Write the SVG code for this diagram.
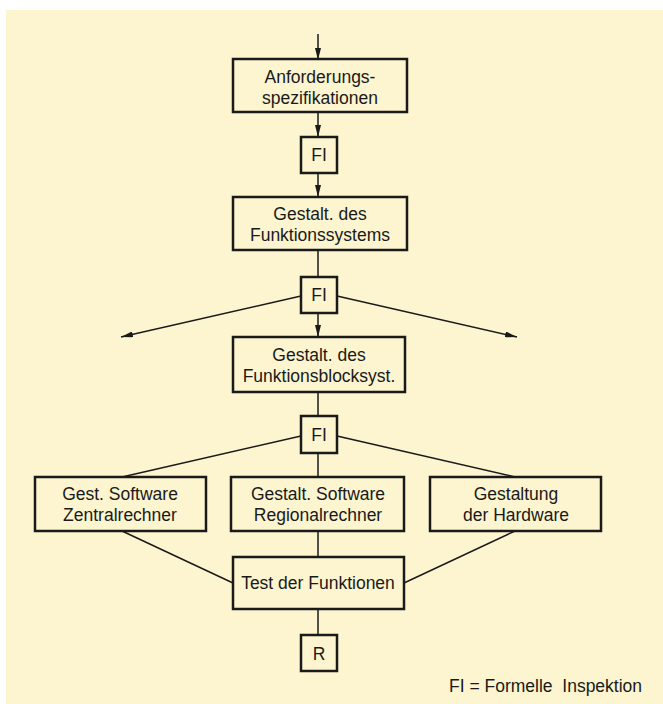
<svg xmlns="http://www.w3.org/2000/svg" width="663" height="704" viewBox="0 0 663 704">
<style>
.bx{fill:none;stroke:#1a1a1a;stroke-width:2.5}
.ln{fill:none;stroke:#1a1a1a;stroke-width:1.5}
.t{font-family:"Liberation Sans",Arial,sans-serif;font-size:17.5px;fill:#1a1a1a;text-anchor:middle}
.lg{font-family:"Liberation Sans",Arial,sans-serif;font-size:17.5px;fill:#1a1a1a;white-space:pre}
</style>
<defs>
<marker id="ah" viewBox="0 0 12 6" refX="12" refY="3" markerWidth="12" markerHeight="6" markerUnits="userSpaceOnUse" orient="auto">
<path d="M0,0 L12,3 L0,6 Z" fill="#1a1a1a"/>
</marker>
</defs>
<rect x="0" y="0" width="663" height="704" fill="#ffffff"/>
<rect x="6" y="10" width="657" height="694" fill="#fcf5cf"/>
<g id="connectors">
<line class="ln" x1="318" y1="34" x2="318" y2="60" marker-end="url(#ah)"/>
<line class="ln" x1="318" y1="112" x2="318" y2="137" marker-end="url(#ah)"/>
<line class="ln" x1="318" y1="173" x2="318" y2="197" marker-end="url(#ah)"/>
<line class="ln" x1="318" y1="250" x2="318" y2="277"/>
<line class="ln" x1="318" y1="313" x2="318" y2="337" marker-end="url(#ah)"/>
<line class="ln" x1="301" y1="296" x2="121" y2="337" marker-end="url(#ah)"/>
<line class="ln" x1="337" y1="296" x2="517" y2="337" marker-end="url(#ah)"/>
<line class="ln" x1="318" y1="392" x2="318" y2="416"/>
<line class="ln" x1="301" y1="436" x2="122" y2="477"/>
<line class="ln" x1="337" y1="436" x2="515" y2="477"/>
<line class="ln" x1="318" y1="453" x2="318" y2="477"/>
<line class="ln" x1="122" y1="531" x2="233" y2="583"/>
<line class="ln" x1="318" y1="531" x2="318" y2="557"/>
<line class="ln" x1="515" y1="531" x2="404" y2="583"/>
<line class="ln" x1="318" y1="609" x2="318" y2="635"/>
</g>
<g id="anforderung">
<rect class="bx" x="233" y="59" width="174" height="53"/>
<text class="t" x="320" y="83">Anforderungs-</text>
<text class="t" x="320" y="104">spezifikationen</text>
</g>
<g id="fi1">
<rect class="bx" x="301" y="137" width="36" height="36"/>
<text class="t" x="319" y="161">FI</text>
</g>
<g id="funktionssystem">
<rect class="bx" x="233" y="197" width="174" height="53"/>
<text class="t" x="320" y="220">Gestalt. des</text>
<text class="t" x="320" y="241">Funktionssystems</text>
</g>
<g id="fi2">
<rect class="bx" x="301" y="277" width="36" height="36"/>
<text class="t" x="319" y="301">FI</text>
</g>
<g id="funktionsblocksyst">
<rect class="bx" x="233" y="337" width="172" height="55"/>
<text class="t" x="319" y="361">Gestalt. des</text>
<text class="t" x="319" y="382">Funktionsblocksyst.</text>
</g>
<g id="fi3">
<rect class="bx" x="301" y="416" width="36" height="37"/>
<text class="t" x="319" y="441">FI</text>
</g>
<g id="zentral">
<rect class="bx" x="35" y="477" width="171" height="54"/>
<text class="t" x="120" y="500">Gest. Software</text>
<text class="t" x="120" y="521">Zentralrechner</text>
</g>
<g id="regional">
<rect class="bx" x="231" y="477" width="173" height="54"/>
<text class="t" x="318" y="500">Gestalt. Software</text>
<text class="t" x="318" y="521">Regionalrechner</text>
</g>
<g id="hardware">
<rect class="bx" x="430" y="477" width="171" height="54"/>
<text class="t" x="516" y="500">Gestaltung</text>
<text class="t" x="516" y="521">der Hardware</text>
</g>
<g id="test">
<rect class="bx" x="233" y="557" width="171" height="52"/>
<text class="t" x="318" y="589">Test der Funktionen</text>
</g>
<g id="r">
<rect class="bx" x="301" y="635" width="36" height="36"/>
<text class="t" x="319" y="660">R</text>
</g>
<text class="lg" x="449" y="692" xml:space="preserve">FI = Formelle  Inspektion</text>
</svg>
